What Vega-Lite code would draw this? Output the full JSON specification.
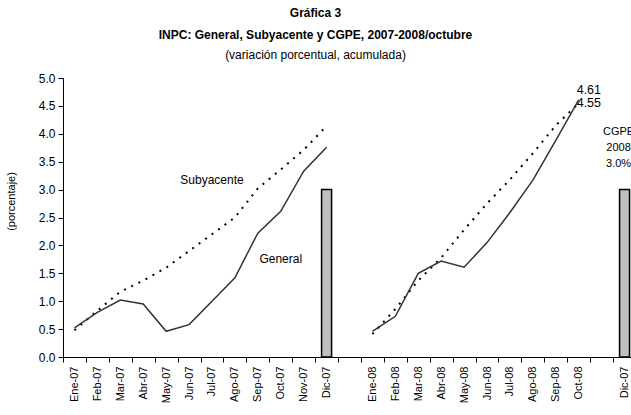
{
  "$schema": "https://vega.github.io/schema/vega-lite/v6.json",
  "width": 573,
  "height": 279,
  "autosize": {"type": "none"},
  "padding": {"left": 63, "top": 78, "right": 0, "bottom": 58},
  "background": "white",
  "config": {
    "view": {"stroke": null},
    "font": "Liberation Sans"
  },
  "title": {
    "text": ["Gráfica 3", "INPC: General, Subyacente y CGPE, 2007-2008/octubre"],
    "subtitle": "(variación porcentual, acumulada)",
    "fontSize": 12,
    "fontWeight": "bold",
    "lineHeight": 22,
    "color": "black",
    "subtitleFontSize": 12,
    "subtitleColor": "black",
    "subtitlePadding": 8,
    "anchor": "middle",
    "dx": -34,
    "offset": 10
  },
  "datasets": {
    "lineset": [
      {"cat": "Ene-07", "v": 0.52, "serie": "General", "yr": "2007"},
      {"cat": "Feb-07", "v": 0.80, "serie": "General", "yr": "2007"},
      {"cat": "Mar-07", "v": 1.02, "serie": "General", "yr": "2007"},
      {"cat": "Abr-07", "v": 0.95, "serie": "General", "yr": "2007"},
      {"cat": "May-07", "v": 0.46, "serie": "General", "yr": "2007"},
      {"cat": "Jun-07", "v": 0.58, "serie": "General", "yr": "2007"},
      {"cat": "Jul-07", "v": 1.00, "serie": "General", "yr": "2007"},
      {"cat": "Ago-07", "v": 1.42, "serie": "General", "yr": "2007"},
      {"cat": "Sep-07", "v": 2.22, "serie": "General", "yr": "2007"},
      {"cat": "Oct-07", "v": 2.61, "serie": "General", "yr": "2007"},
      {"cat": "Nov-07", "v": 3.33, "serie": "General", "yr": "2007"},
      {"cat": "Dic-07", "v": 3.76, "serie": "General", "yr": "2007"},
      {"cat": "Ene-08", "v": 0.46, "serie": "General", "yr": "2008"},
      {"cat": "Feb-08", "v": 0.73, "serie": "General", "yr": "2008"},
      {"cat": "Mar-08", "v": 1.50, "serie": "General", "yr": "2008"},
      {"cat": "Abr-08", "v": 1.72, "serie": "General", "yr": "2008"},
      {"cat": "May-08", "v": 1.61, "serie": "General", "yr": "2008"},
      {"cat": "Jun-08", "v": 2.05, "serie": "General", "yr": "2008"},
      {"cat": "Jul-08", "v": 2.59, "serie": "General", "yr": "2008"},
      {"cat": "Ago-08", "v": 3.17, "serie": "General", "yr": "2008"},
      {"cat": "Sep-08", "v": 3.88, "serie": "General", "yr": "2008"},
      {"cat": "Oct-08", "v": 4.61, "serie": "General", "yr": "2008"},
      {"cat": "Ene-07", "v": 0.48, "serie": "Subyacente", "yr": "2007"},
      {"cat": "Feb-07", "v": 0.83, "serie": "Subyacente", "yr": "2007"},
      {"cat": "Mar-07", "v": 1.17, "serie": "Subyacente", "yr": "2007"},
      {"cat": "Abr-07", "v": 1.37, "serie": "Subyacente", "yr": "2007"},
      {"cat": "May-07", "v": 1.60, "serie": "Subyacente", "yr": "2007"},
      {"cat": "Jun-07", "v": 1.90, "serie": "Subyacente", "yr": "2007"},
      {"cat": "Jul-07", "v": 2.20, "serie": "Subyacente", "yr": "2007"},
      {"cat": "Ago-07", "v": 2.50, "serie": "Subyacente", "yr": "2007"},
      {"cat": "Sep-07", "v": 3.02, "serie": "Subyacente", "yr": "2007"},
      {"cat": "Oct-07", "v": 3.36, "serie": "Subyacente", "yr": "2007"},
      {"cat": "Nov-07", "v": 3.71, "serie": "Subyacente", "yr": "2007"},
      {"cat": "Dic-07", "v": 4.14, "serie": "Subyacente", "yr": "2007"},
      {"cat": "Ene-08", "v": 0.41, "serie": "Subyacente", "yr": "2008"},
      {"cat": "Feb-08", "v": 0.86, "serie": "Subyacente", "yr": "2008"},
      {"cat": "Mar-08", "v": 1.37, "serie": "Subyacente", "yr": "2008"},
      {"cat": "Abr-08", "v": 1.78, "serie": "Subyacente", "yr": "2008"},
      {"cat": "May-08", "v": 2.28, "serie": "Subyacente", "yr": "2008"},
      {"cat": "Jun-08", "v": 2.75, "serie": "Subyacente", "yr": "2008"},
      {"cat": "Jul-08", "v": 3.18, "serie": "Subyacente", "yr": "2008"},
      {"cat": "Ago-08", "v": 3.65, "serie": "Subyacente", "yr": "2008"},
      {"cat": "Sep-08", "v": 4.15, "serie": "Subyacente", "yr": "2008"},
      {"cat": "Oct-08", "v": 4.55, "serie": "Subyacente", "yr": "2008"}
    ],
    "barset": [
      {"cat": "Dic-07", "v": 3.0},
      {"cat": "Dic-07b", "v": 3.0}
    ],
    "labelset": [
      {"cat": "Jul-07", "v": 3.18, "t": "Subyacente"},
      {"cat": "Oct-07", "v": 1.75, "t": "General"}
    ],
    "endset": [
      {"cat": "Oct-08", "v": 4.79, "t": "4.61"},
      {"cat": "Oct-08", "v": 4.56, "t": "4.55"}
    ],
    "cgpeset": [
      {"cat": "Dic-07b", "v": 4.04, "t": "CGPE"},
      {"cat": "Dic-07b", "v": 3.75, "t": "2008"},
      {"cat": "Dic-07b", "v": 3.46, "t": "3.0%"}
    ]
  },
  "encoding": {
    "x": {
      "field": "cat",
      "type": "nominal",
      "scale": {
        "type": "band",
        "domain": ["Ene-07","Feb-07","Mar-07","Abr-07","May-07","Jun-07","Jul-07","Ago-07","Sep-07","Oct-07","Nov-07","Dic-07","_1","Ene-08","Feb-08","Mar-08","Abr-08","May-08","Jun-08","Jul-08","Ago-08","Sep-08","Oct-08","_2","Dic-07b"],
        "paddingInner": 0,
        "paddingOuter": 0
      },
      "axis": {
        "title": null,
        "labelAngle": 270,
        "labelFontSize": 11,
        "labelColor": "black",
        "labelPadding": 4,
        "labelExpr": "datum.value == 'Dic-07b' ? 'Dic-07' : ((datum.value == '_1' || datum.value == '_2') ? '' : datum.value)",
        "tickBand": "extent",
        "tickSize": 5,
        "tickColor": "black",
        "domainColor": "black",
        "grid": false
      }
    },
    "y": {
      "field": "v",
      "type": "quantitative",
      "scale": {"domain": [0, 5], "nice": false},
      "axis": {
        "title": "(porcentaje)",
        "titleFontSize": 11,
        "titleFontWeight": "normal",
        "titleColor": "black",
        "titleX": -47,
        "titleY": 123,
        "values": [0, 0.5, 1, 1.5, 2, 2.5, 3, 3.5, 4, 4.5, 5],
        "format": ".1f",
        "labelFontSize": 12,
        "labelColor": "black",
        "labelPadding": 3,
        "tickSize": 5,
        "tickColor": "black",
        "domainColor": "black",
        "grid": false
      }
    }
  },
  "layer": [
    {
      "data": {"name": "barset"},
      "mark": {"type": "bar", "size": 10, "fill": "#c0c0c0", "stroke": "black", "strokeWidth": 1.5}
    },
    {
      "data": {"name": "lineset"},
      "transform": [{"filter": "datum.serie == 'Subyacente'"}],
      "mark": {"type": "line", "color": "black", "strokeWidth": 2, "strokeDash": [2, 6]},
      "encoding": {"detail": {"field": "yr"}}
    },
    {
      "data": {"name": "lineset"},
      "transform": [{"filter": "datum.serie == 'General'"}],
      "mark": {"type": "line", "color": "#333333", "strokeWidth": 1.5},
      "encoding": {"detail": {"field": "yr"}}
    },
    {
      "data": {"name": "labelset"},
      "mark": {"type": "text", "fontSize": 12, "align": "center", "baseline": "middle"},
      "encoding": {"text": {"field": "t"}}
    },
    {
      "data": {"name": "endset"},
      "mark": {"type": "text", "fontSize": 12.5, "align": "left", "baseline": "middle", "dx": -2},
      "encoding": {"text": {"field": "t"}}
    },
    {
      "data": {"name": "cgpeset"},
      "mark": {"type": "text", "fontSize": 11, "align": "center", "baseline": "middle", "dx": -6},
      "encoding": {"text": {"field": "t"}}
    }
  ]
}
